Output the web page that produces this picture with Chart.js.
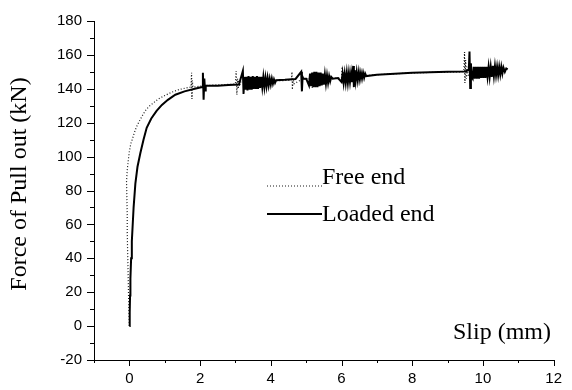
<!DOCTYPE html>
<html>
<head>
<meta charset="utf-8">
<script src="https://cdn.jsdelivr.net/npm/chart.js@4.4.0/dist/chart.umd.min.js"></script>
<style>
  html, body { margin: 0; padding: 0; background: #fff; }
  #wrap { width: 572px; height: 390px; }
</style>
</head>
<body>
<div id="wrap"><canvas id="pullChart" width="572" height="390"></canvas></div>
<script>
// Axis ticks
const xMajorTicks = [0, 2, 4, 6, 8, 10, 12];
const xMinorTicks = [-1, 1, 3, 5, 7, 9, 11];
const yMajorTicks = [-20, 0, 20, 40, 60, 80, 100, 120, 140, 160, 180];
const yMinorTicks = [-10, 10, 30, 50, 70, 90, 110, 130, 150, 170];

// Free end (dotted)
const freeSlip = [
  0, -0.01, -0.02, -0.03, -0.04, -0.05, -0.06, -0.06, -0.07, -0.08, -0.06, -0.03,
  0.0, 0.04, 0.08, 0.14, 0.2, 0.26, 0.35, 0.45, 0.55, 0.7, 0.82, 1.0, 1.2, 1.4, 1.6,
  1.74, 1.76, 1.77, 1.78, 1.8, 2.2, 2.6, 3.0,
  3.02, 3.04, 3.06, 3.08, 3.1, 3.12, 3.14, 3.6, 4.2,
  4.58, 4.6, 4.61, 4.63, 4.66, 4.9,
  5.14, 5.16, 5.17, 5.19, 5.22, 5.6,
  6.0, 6.02, 6.04, 6.06, 6.08, 6.1, 6.14, 6.5, 7.0, 8.0, 9.0, 9.4,
  9.46, 9.48, 9.49, 9.51, 9.53, 9.55, 9.58, 10.0, 10.6
];
const freeForce = [
  0, 8, 15, 25, 35, 45, 55, 65, 75, 85, 92, 98,
  103, 107.5, 110, 114, 117.5, 120, 123.5, 127, 129.5, 132, 134, 136, 138, 139.5, 140.5,
  141, 149.5, 134, 145, 141, 142, 142.4, 142.8,
  150.5, 136.5, 146, 140, 145, 141.5, 144, 144, 144.8,
  145, 150, 139.5, 146, 143, 145.8,
  146, 149.2, 140.5, 147, 145, 146,
  146.5, 153, 144.3, 150, 145.5, 148.5, 146.5, 147.5, 148.3, 149.4, 149.9, 150,
  150.5, 161.7, 143.4, 157, 146, 153, 148, 150.5, 151
];

// Loaded end (solid)
const loadedSlip = [
  0, 0.01, 0.02, 0.03, 0.05, 0.07, 0.09, 0.12, 0.17, 0.23, 0.31, 0.4, 0.49, 0.62, 0.77,
  0.92, 1.09, 1.3, 1.56, 1.85, 2.06,
  2.08, 2.1, 2.12, 2.14, 2.16, 2.5, 2.8, 3.1,
  3.21, 3.23, 3.25,
  3.28, 3.31, 3.34, 3.37, 3.4, 3.43, 3.46, 3.49, 3.52, 3.55, 3.58, 3.61, 3.64, 3.67, 3.7,
  3.73, 3.76, 3.79, 3.82, 3.85, 3.88, 3.91, 3.94, 3.97, 4.0, 4.03, 4.06, 4.09, 4.12, 4.15,
  4.4, 4.7, 4.86, 4.88, 4.9, 4.92, 5.0,
  5.08, 5.11, 5.14, 5.17, 5.2, 5.23, 5.26, 5.29, 5.32, 5.35, 5.38, 5.41, 5.44, 5.47, 5.5,
  5.53, 5.56, 5.59, 5.62, 5.65, 5.68, 5.71, 5.75, 5.9,
  6.0, 6.03, 6.06, 6.09, 6.12, 6.15, 6.18, 6.21, 6.24, 6.27, 6.3, 6.33, 6.35, 6.37, 6.4,
  6.43, 6.46, 6.49, 6.52, 6.55, 6.58, 6.61, 6.64, 6.67, 6.7,
  7.0, 7.5, 8.0, 8.5, 9.0, 9.5,
  9.6, 9.62, 9.64, 9.66, 9.68,
  9.71, 9.74, 9.77, 9.8, 9.83, 9.86, 9.89, 9.92, 9.95, 9.98, 10.01, 10.04, 10.07, 10.1,
  10.13, 10.16, 10.19, 10.22, 10.25, 10.28, 10.31, 10.34, 10.37, 10.4, 10.43, 10.46,
  10.49, 10.52, 10.55, 10.58, 10.62, 10.66, 10.7
];
const loadedForce = [
  0, 8, 18, 28, 40, 50, 58, 70, 84, 94, 102, 110, 117, 122.5, 127,
  130.5, 133.5, 136.5, 138.5, 140, 141,
  149.5, 133.5, 146, 139, 142, 141.8, 142.2, 142.5,
  150.5, 137, 147,
  139.5, 147, 139, 147.5, 139.5, 147, 139.5, 147.5, 140, 147, 140, 147.5, 140, 147, 140.5,
  147, 141, 147, 141, 146.5, 141.5, 146.5, 142, 146, 142.5, 146, 143, 145.5, 143.5, 145,
  145.3, 145.8, 150, 138.5, 147, 146, 146,
  142, 149, 141.5, 149.5, 141, 150, 141, 150, 141, 149.5, 141.5, 149.5, 142, 149, 142.5,
  148.5, 143, 148, 143.5, 147.5, 144.5, 147, 146, 146.3,
  144, 149, 143.5, 149, 143.5, 149.5, 143.5, 149.5, 144, 149.5, 144, 153.5, 141, 151, 144.5,
  150, 145, 150, 145.5, 149.5, 146, 149.5, 146.5, 149, 147.5,
  148.3, 148.9, 149.5, 149.8, 150, 150.2,
  151, 162, 140.5, 155, 147,
  146, 153, 146, 153, 146, 153, 146, 153, 146.5, 153, 146.5, 153, 146.5, 153,
  147, 153, 147, 153, 147, 153.5, 147.5, 153.5, 148, 153, 148, 153,
  148.5, 153, 149, 152.5, 150, 152, 151.5
];

const toPoints = (xs, ys) => xs.map((x, i) => ({ x: x, y: ys[i] }));

const serif = "'Liberation Serif', 'Times New Roman', serif";
const sans = "'Liberation Sans', Arial, sans-serif";

// outward major/minor ticks, legend, y title and the in-plot "Slip (mm)" label
const decorations = {
  id: 'decorations',
  afterDraw(chart) {
    const ctx = chart.ctx;
    const xs = chart.scales.x, ys = chart.scales.y;
    const area = chart.chartArea;
    ctx.save();
    ctx.strokeStyle = '#000';
    ctx.lineWidth = 1;
    ctx.beginPath();
    xMajorTicks.forEach(v => {
      const px = Math.round(xs.getPixelForValue(v)) + 0.5;
      ctx.moveTo(px, area.bottom); ctx.lineTo(px, area.bottom + 6);
    });
    xMinorTicks.forEach(v => {
      const px = Math.round(xs.getPixelForValue(v)) + 0.5;
      ctx.moveTo(px, area.bottom); ctx.lineTo(px, area.bottom + 3);
    });
    yMajorTicks.forEach(v => {
      const py = Math.round(ys.getPixelForValue(v)) + 0.5;
      ctx.moveTo(area.left, py); ctx.lineTo(area.left - 7, py);
    });
    yMinorTicks.forEach(v => {
      const py = Math.round(ys.getPixelForValue(v)) + 0.5;
      ctx.moveTo(area.left, py); ctx.lineTo(area.left - 4, py);
    });
    ctx.stroke();

    ctx.font = '24px ' + serif;
    ctx.fillStyle = '#000';

    // y axis title
    ctx.save();
    ctx.translate(20, 184);
    ctx.rotate(-Math.PI / 2);
    ctx.textAlign = 'center';
    ctx.textBaseline = 'middle';
    ctx.fillText('Force of Pull out (kN)', 0, 0);
    ctx.restore();

    // legend
    ctx.textBaseline = 'alphabetic';
    const textRows = [184, 221];
    const lineRows = [186, 214];
    chart.data.datasets.forEach((ds, i) => {
      ctx.beginPath();
      ctx.strokeStyle = ds.borderColor;
      ctx.lineWidth = ds.borderWidth;
      ctx.setLineDash(ds.borderDash || []);
      ctx.moveTo(267, lineRows[i]); ctx.lineTo(322, lineRows[i]);
      ctx.stroke();
      ctx.setLineDash([]);
      ctx.fillText(ds.label, 322, textRows[i]);
    });

    ctx.fillText('Slip (mm)', 453, 339);
    ctx.restore();
  }
};

new Chart(document.getElementById('pullChart'), {
  type: 'scatter',
  data: {
    datasets: [
      {
        label: 'Free end',
        data: toPoints(freeSlip, freeForce),
        showLine: true,
        borderColor: '#1a1a1a',
        borderWidth: 1.2,
        borderDash: [1, 2],
        pointRadius: 0,
        order: 1
      },
      {
        label: 'Loaded end',
        data: toPoints(loadedSlip, loadedForce),
        showLine: true,
        borderColor: '#000',
        borderWidth: 2,
        pointRadius: 0,
        order: 0
      }
    ]
  },
  options: {
    responsive: false,
    animation: false,
    layout: { padding: { left: 0, top: 15, right: 9, bottom: 0 } },
    plugins: { legend: { display: false }, tooltip: { enabled: false } },
    scales: {
      x: {
        type: 'linear',
        min: -1,
        max: 12,
        afterBuildTicks: s => { s.ticks = xMajorTicks.map(v => ({ value: v })); },
        afterFit: s => { s.height = 30; },
        grid: { drawOnChartArea: false, drawTicks: false },
        border: { display: true, color: '#000', width: 1 },
        ticks: { color: '#000', font: { family: sans, size: 15 }, padding: 10, maxRotation: 0 }
      },
      y: {
        type: 'linear',
        min: -20,
        max: 180,
        afterBuildTicks: s => { s.ticks = yMajorTicks.map(v => ({ value: v })); },
        afterFit: s => { s.width = 94; },
        grid: { drawOnChartArea: false, drawTicks: false },
        border: { display: true, color: '#000', width: 1 },
        ticks: { color: '#000', font: { family: sans, size: 15 }, padding: 12 }
      }
    }
  },
  plugins: [decorations]
});
</script>
</body>
</html>
